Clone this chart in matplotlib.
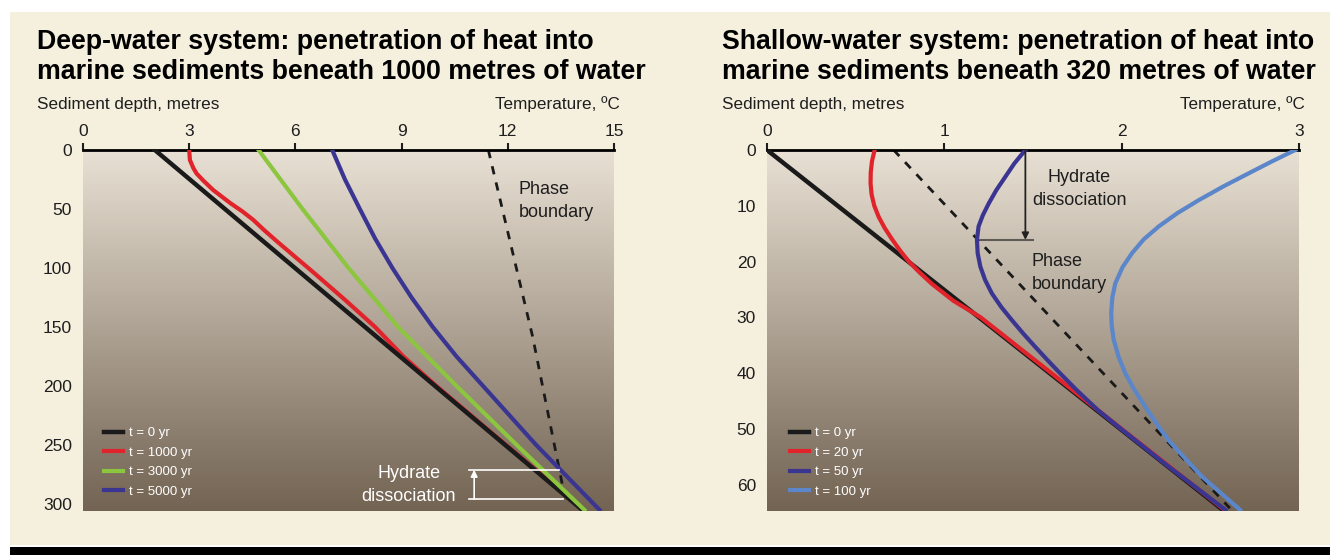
import matplotlib
matplotlib.use("Agg")
import matplotlib.pyplot as plt
import numpy as np
from matplotlib.patches import Rectangle

plt.rcParams['font.family'] = ['Liberation Sans', 'DejaVu Sans']

# ---- deep-water system (temperature degC vs sediment depth m) ----
deep_labels = ["t = 0 yr", "t = 1000 yr", "t = 3000 yr", "t = 5000 yr"]
deep_t0_depth = [0, 305]
deep_t0_temp = [2.03, 14.1]
deep_t1000_depth = [0, 8.5, 15.5, 20, 26, 34, 45, 52, 59, 68, 78, 89, 103, 127, 150, 175, 200, 240, 305]
deep_t1000_temp = [3.0, 3.02, 3.12, 3.21, 3.40, 3.68, 4.16, 4.5, 4.8, 5.12, 5.5, 5.93, 6.48, 7.4, 8.25, 9.05, 9.98, 11.55, 14.13]
deep_t3000_depth = [0, 50, 100, 150, 200, 250, 305]
deep_t3000_temp = [4.96, 6.2, 7.5, 8.9, 10.55, 12.25, 14.16]
deep_t5000_depth = [0, 25, 50, 75, 100, 125, 150, 175, 200, 250, 305]
deep_t5000_temp = [7.04, 7.4, 7.82, 8.25, 8.74, 9.28, 9.88, 10.55, 11.3, 12.8, 14.59]
deep_phase_depth = [0, 158, 285]
deep_phase_temp = [11.45, 12.7, 13.55]
deep_hydrate = [271, 296]  # top / bottom of dissociation zone, m

# ---- shallow-water system ----
shallow_labels = ["t = 0 yr", "t = 20 yr", "t = 50 yr", "t = 100 yr"]
shallow_t0_depth = [0, 64.5]
shallow_t0_temp = [0, 2.57]
shallow_t20_depth = [0, 2, 4, 6, 8, 10, 12, 14, 16, 18, 20, 22, 24, 27, 30, 40, 50, 60, 64.5]
shallow_t20_temp = [0.607, 0.592, 0.585, 0.584, 0.59, 0.605, 0.63, 0.664, 0.705, 0.75, 0.8, 0.862, 0.93, 1.05, 1.205, 1.604, 2.0, 2.4, 2.58]
shallow_t50_depth = [0, 2.4, 4.8, 7.2, 9.6, 11.7, 13.7, 16.1, 18.5, 20.9, 23.3, 25.7, 28.1, 30.5, 32.9, 35.3,
                     37.6, 40, 43, 46.6, 50, 56.5, 64.5]
shallow_t50_temp = [1.457, 1.395, 1.344, 1.293, 1.25, 1.217, 1.193, 1.184, 1.188, 1.203, 1.23, 1.268, 1.32, 1.381,
                    1.445, 1.513, 1.58, 1.652, 1.745, 1.865, 1.997, 2.255, 2.585]
shallow_t100_depth = [0, 2, 4.2, 6.5, 9, 11.3, 13.7, 16, 18.5, 21, 23.9, 26.5, 29.3, 31.5, 34, 37, 40, 43, 46, 49, 52, 55, 58.5, 61.5, 64.5]
shallow_t100_temp = [2.979, 2.85, 2.715, 2.575, 2.434, 2.315, 2.209, 2.125, 2.058, 2.005, 1.964, 1.947, 1.941, 1.944, 1.955, 1.982, 2.02, 2.072, 2.133, 2.196, 2.264, 2.35, 2.452, 2.56, 2.668]
shallow_phase_depth = [0, 64.2]
shallow_phase_temp = [0.714, 2.61]
shallow_hydrate = [0, 16.1]  # dissociation front, m

cream = "#f5efde"
txt = "#1e1e1e"

fig = plt.figure(figsize=(13.3, 5.55), dpi=100)
fig.patch.set_facecolor("white")
fig.patches.append(Rectangle((10 / 1330, 10 / 555), 1, 1 - 22 / 555, transform=fig.transFigure,
                             facecolor=cream, edgecolor="none", zorder=-10))
fig.patches.append(Rectangle((10 / 1330, 0), 1, 8 / 555, transform=fig.transFigure,
                             facecolor="black", edgecolor="none", zorder=-10))

grad = np.linspace(0, 1, 256).reshape(-1, 1)
top_c = np.array([0.91, 0.88, 0.83])
bot_c = np.array([0.45, 0.39, 0.325])
grad_img = top_c + (bot_c - top_c) * grad[:, :, None] * np.ones((1, 1, 3))


def setup(ax, xmax, ymax, xticks, yticks):
    ax.set_xlim(0, xmax)
    ax.set_ylim(ymax, 0)
    ax.imshow(grad_img, extent=[0, xmax, ymax, 0], aspect="auto", zorder=0)
    for s in ["left", "right", "bottom"]:
        ax.spines[s].set_visible(False)
    ax.spines["top"].set_linewidth(2)
    ax.xaxis.tick_top()
    ax.set_xticks(xticks)
    ax.set_yticks(yticks)
    ax.tick_params(axis="x", direction="out", length=5, width=1.5, labelsize=12.5, pad=3, colors=txt)
    ax.tick_params(axis="y", length=0, labelsize=12.5, pad=8, colors=txt)


legend_kw = dict(loc="lower left", frameon=False, fontsize=9.5, labelcolor="white", handlelength=1.4,
                 handletextpad=0.5, labelspacing=0.55, borderaxespad=0)
note_kw = dict(fontsize=13, va="center", linespacing=1.45)

# left panel
ax1 = fig.add_axes([83 / 1330, 44 / 555, 531 / 1330, 361 / 555])
setup(ax1, 15, 306, [0, 3, 6, 9, 12, 15], [0, 50, 100, 150, 200, 250, 300])
ax1.plot(deep_phase_temp, deep_phase_depth, color="#1a1a1a", lw=2, ls=(0, (3, 3)), zorder=2)
h0, = ax1.plot(deep_t0_temp, deep_t0_depth, color="#1a1a1a", lw=3.2, zorder=4)
h1, = ax1.plot(deep_t1000_temp, deep_t1000_depth, color="#e1232b", lw=3, zorder=3)
h2, = ax1.plot(deep_t3000_temp, deep_t3000_depth, color="#8cc63f", lw=3, zorder=5)
h3, = ax1.plot(deep_t5000_temp, deep_t5000_depth, color="#3b3592", lw=3, zorder=5)
ax1.plot([10.9, 13.45], [deep_hydrate[0]] * 2, color="white", lw=1.2, zorder=6)
ax1.plot([10.9, 13.57], [deep_hydrate[1]] * 2, color="white", lw=1.2, zorder=6)
ax1.annotate("", xy=(11.05, deep_hydrate[0]), xytext=(11.05, deep_hydrate[1]),
             arrowprops=dict(arrowstyle="-|>", color="white", lw=1.2, mutation_scale=10,
                             shrinkA=0, shrinkB=0), zorder=6)
ax1.text(9.2, 284, "Hydrate\ndissociation", color="white", ha="center", zorder=6, **note_kw)
ax1.text(12.3, 43, "Phase\nboundary", color=txt, ha="left", **note_kw)
ax1.legend([h0, h1, h2, h3], deep_labels, bbox_to_anchor=(16 / 531, 8 / 361), **legend_kw)

# right panel
ax2 = fig.add_axes([767 / 1330, 44 / 555, 532 / 1330, 361 / 555])
setup(ax2, 3, 64.7, [0, 1, 2, 3], [0, 10, 20, 30, 40, 50, 60])
ax2.plot(shallow_phase_temp, shallow_phase_depth, color="#1a1a1a", lw=2, ls=(0, (3, 3)), zorder=2)
g0, = ax2.plot(shallow_t0_temp, shallow_t0_depth, color="#1a1a1a", lw=3.2, zorder=3)
g1, = ax2.plot(shallow_t20_temp, shallow_t20_depth, color="#e1232b", lw=3, zorder=4)
g2, = ax2.plot(shallow_t50_temp, shallow_t50_depth, color="#3b3592", lw=3, zorder=5)
g3, = ax2.plot(shallow_t100_temp, shallow_t100_depth, color="#5b86c9", lw=3, zorder=5)
ax2.plot([1.205, 1.50], [shallow_hydrate[1]] * 2, color="#5e5a55", lw=1.5, zorder=6)
ax2.annotate("", xy=(1.457, shallow_hydrate[1]), xytext=(1.457, shallow_hydrate[0]),
             arrowprops=dict(arrowstyle="-|>", color="#222222", lw=1.3, mutation_scale=10,
                             shrinkA=0, shrinkB=0), zorder=6)
ax2.text(1.76, 7.0, "Hydrate\ndissociation", color=txt, ha="center", **note_kw)
ax2.text(1.494, 22, "Phase\nboundary", color=txt, ha="left", **note_kw)
ax2.legend([g0, g1, g2, g3], shallow_labels, bbox_to_anchor=(18 / 532, 8 / 361), **legend_kw)

# titles and axis captions
for x0, x1, l1, l2 in [(37, 620, "Deep-water system: penetration of heat into",
                        "marine sediments beneath 1000 metres of water"),
                       (722, 1305, "Shallow-water system: penetration of heat into",
                        "marine sediments beneath 320 metres of water")]:
    fig.text(x0 / 1330, 1 - 42 / 555, l1, fontsize=19.3, fontweight="bold", color="black", va="center")
    fig.text(x0 / 1330, 1 - 72 / 555, l2, fontsize=19.3, fontweight="bold", color="black", va="center")
    fig.text(x0 / 1330, 1 - 104 / 555, "Sediment depth, metres", fontsize=12.3, color=txt, va="center")
    fig.text(x1 / 1330, 1 - 104 / 555, "Temperature, ºC", fontsize=12.3, color=txt, va="center", ha="right")

fig.savefig("out.png", dpi=100, facecolor=fig.get_facecolor())
